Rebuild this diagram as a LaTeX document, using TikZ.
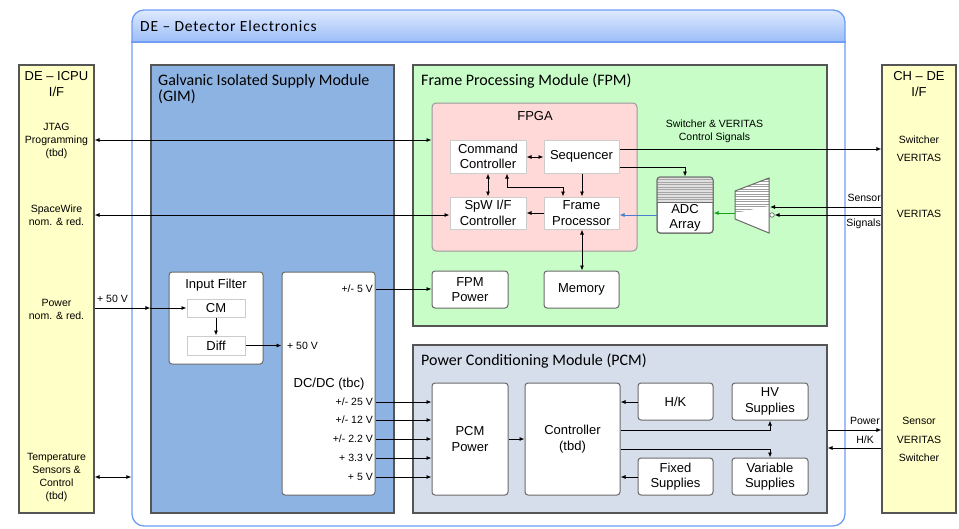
\documentclass[tikz,border=0pt]{standalone}
\usepackage{fontspec}
\setmainfont{Liberation Sans}
\newfontfamily\calfont{Carlito}
\newfontfamily\calwide[LetterSpace=5.5]{Carlito}
\usetikzlibrary{arrows.meta,fit,calc}
\definecolor{yel}{HTML}{FFFFC8}
\definecolor{gimc}{HTML}{8DB3E2}
\definecolor{fpmc}{HTML}{C8FDC8}
\definecolor{pcmc}{HTML}{D5DEEA}
\definecolor{fpgac}{HTML}{FFD8D8}
\definecolor{deline}{HTML}{6F9CF4}
\definecolor{detop}{HTML}{DDE9FF}
\definecolor{debot}{HTML}{9CBDF7}
\definecolor{modline}{HTML}{555555}
\definecolor{boxline}{HTML}{6A6A6A}
\definecolor{flow}{HTML}{4A7FD0}
\definecolor{grn}{HTML}{1E9E1E}
\newcommand\rbox[7]{%
 \pgfmathsetmacro\cxx{(#3+#5)/2}\pgfmathsetmacro\cyy{(#4+#6)/2}%
 \pgfmathsetmacro\ww{#5-#3}\pgfmathsetmacro\hh{#6-#4}%
 \node[#1, minimum width=\ww pt, minimum height=\hh pt] (#2) at (\cxx,\cyy) {#7};}
\begin{document}
\begin{tikzpicture}[x=1pt,y=-1pt,
 mod/.style={inner sep=0pt, draw=modline, line width=1.1pt},
 wbox/.style={inner sep=0pt, draw=boxline, line width=1pt, fill=white, rounded corners=3pt, align=center, font=\fontsize{13}{15.5}\selectfont},
 fbox/.style={inner sep=0pt, draw=gray!40, line width=1pt, fill=white, align=center, font=\fontsize{13}{15.5}\selectfont},
 arr/.style={-{Latex[length=5pt,width=4pt]}, line width=0.8pt},
 darr/.style={{Latex[length=5pt,width=4pt]}-{Latex[length=5pt,width=4pt]}, line width=0.8pt},
 lbl/.style={font=\fontsize{10.5}{13}\selectfont, align=center, inner sep=0pt},
 big/.style={font=\fontsize{13}{15.5}\selectfont, align=center, inner sep=0pt},
 ttl/.style={font=\calfont\fontsize{16}{16}\selectfont, anchor=base west, inner sep=0pt},
]
\useasboundingbox (0,0) rectangle (959,528);

% DE outer box
\begin{scope}
 \clip[rounded corners=12pt] (132,10) rectangle (845,526);
 \fill[white] (132,10) rectangle (845,526);
 \shade[top color=detop, bottom color=debot] (132,10) rectangle (845,42);
\end{scope}
\node[inner sep=0pt, draw=deline, line width=1.3pt, rounded corners=12pt, fit={(132,10)(845,526)}] (de) {};
\draw[deline, line width=1.3pt] (de.west |- 0,42) -- (de.east |- 0,42);
\node[anchor=base west, inner sep=0pt, font=\calwide\fontsize{15.5}{16}\selectfont] at (140,31) {DE – Detector Electronics};

% interface boxes
\rbox{mod, fill=yel}{lif}{19}{65}{94}{513}{}
\rbox{mod, fill=yel}{rif}{882}{65}{956}{513}{}

% modules
\rbox{mod, fill=gimc}{gim}{151}{65}{394}{513}{}
\rbox{mod, fill=fpmc}{fpm}{413}{65}{827}{326}{}
\rbox{mod, fill=pcmc}{pcm}{413}{345}{827}{513}{}
\node[ttl] at (158,85) {Galvanic Isolated Supply Module};
\node[ttl] at (158,101) {(GIM)};
\node[ttl] at (421,85) {Frame Processing Module (FPM)};
\node[ttl] at (421,365) {Power Conditioning Module (PCM)};

% left interface text
\node[big] at (56.5,76.5) {DE – ICPU};
\node[big] at (56.5,92) {I/F};
\node[lbl] at (56.5,141) {JTAG\\Programming\\(tbd)};
\node[lbl] at (56.5,215) {SpaceWire\\nom. \& red.};
\node[lbl] at (56.5,309) {Power\\nom. \& red.};
\node[lbl] at (56.5,477) {Temperature\\Sensors \&\\Control\\(tbd)};

% right interface text
\node[big] at (919,76.5) {CH – DE};
\node[big] at (919,92) {I/F};
\node[lbl] at (919,140) {Switcher};
\node[lbl] at (919,158) {VERITAS};
\node[lbl] at (919,214) {VERITAS};
\node[lbl] at (919,421) {Sensor};
\node[lbl] at (919,440) {VERITAS};
\node[lbl] at (919,458) {Switcher};

% FPGA
\rbox{inner sep=0pt, draw=gray!80, line width=1pt, fill=fpgac, rounded corners=4pt}{fpga}{432}{103}{637}{251}{}
\node[big] at (535,116.5) {FPGA};
\rbox{fbox}{cmd}{450}{140}{526}{173}{Command\\Controller}
\rbox{fbox}{seq}{544}{140}{619}{173}{Sequencer}
\rbox{fbox}{spw}{450}{197}{526}{229}{SpW I/F\\Controller}
\rbox{fbox}{fp}{544}{197}{619}{229}{Frame\\Processor}

% FPM boxes
\rbox{wbox}{fpmpow}{432}{271}{508}{308}{FPM\\Power}
\rbox{wbox}{mem}{544}{271}{619}{308}{Memory}
\node[lbl] at (714.5,124) {Switcher \& VERITAS};
\node[lbl] at (714.5,138) {Control Signals};

% ADC array
\rbox{wbox}{adc}{657}{177}{713}{233}{}
\begin{scope}
 \clip[rounded corners=3pt] (657,177) rectangle (713,233);
 \fill[gray!25] (657,177) rectangle (713,202);
 \foreach \yy in {179.5,182,...,201} \draw[gray!70, line width=0.6pt] (657,\yy) -- (713,\yy);
\end{scope}
\draw[boxline, line width=1pt, rounded corners=3pt] (657,177) rectangle (713,233);
\draw[boxline, line width=0.8pt] (657,202) -- (713,202);
\node[big] at (685,209.5) {ADC};
\node[big] at (685,225) {Array};

% multiplexer
\coordinate (muxL) at (735,213);
\fill[white] (735,191) -- (769,178) -- (769,233) -- (735,219) -- cycle;
\begin{scope}
 \clip (735,191) -- (769,178) -- (769,233) -- (735,219) -- cycle;
 \clip (735,170) -- (769,170) -- (769,206) -- (735,213) -- cycle;
 \foreach \yy in {179,181.5,...,214} \draw[gray!75, line width=0.6pt] (735,\yy) -- (769,\yy);
\end{scope}
\draw[boxline, line width=1pt] (735,191) -- (769,178) -- (769,233) -- (735,219) -- cycle;
\node[circle, draw=boxline, fill=white, line width=0.7pt, inner sep=0pt, minimum size=4.5pt] (inv) at (772,215) {};
\coordinate (muxin) at (770,207);

% GIM contents
\rbox{wbox}{infilt}{169}{272}{263}{364}{}
\node[big] at (216,285) {Input Filter};
\rbox{fbox}{cm}{187}{299}{245}{317}{CM}
\rbox{fbox}{diff}{187}{336}{245}{355}{Diff}
\rbox{wbox}{dcdc}{282}{272}{375}{495}{}
\node[big] at (329,384) {DC/DC (tbc)};
\node[lbl, anchor=west] at (287,346) {+ 50 V};
\node[lbl, anchor=east] at (373,289) {+/- 5 V};
\node[lbl, anchor=east] at (373,402) {+/- 25 V};
\node[lbl, anchor=east] at (373,420) {+/- 12 V};
\node[lbl, anchor=east] at (373,439) {+/- 2.2 V};
\node[lbl, anchor=east] at (373,458) {+ 3.3 V};
\node[lbl, anchor=east] at (373,477) {+ 5 V};
\node[lbl, anchor=west] at (97,299) {+ 50 V};

% PCM contents
\rbox{wbox}{pcmpow}{432}{383}{508}{495}{PCM\\Power}
\rbox{wbox}{ctrl}{525}{383}{620}{495}{Controller\\(tbd)}
\rbox{wbox}{hk}{638}{383}{713}{420}{H/K}
\rbox{wbox}{hv}{732}{383}{808}{420}{HV\\Supplies}
\rbox{wbox}{fix}{638}{458}{713}{495}{Fixed\\Supplies}
\rbox{wbox}{var}{732}{458}{808}{495}{Variable\\Supplies}

% labels right side
\node[lbl, anchor=east] at (881,198) {Sensor};
\node[lbl, anchor=east] at (881,224) {Signals};
\node[lbl, anchor=east] at (880,421) {Power};
\node[lbl] at (865,440) {H/K};

% connectors
\draw[darr] (lif.east |- 0,140) -- (fpga.west |- 0,140);
\draw[darr] (lif.east |- 0,215) -- (spw.west |- 0,215);
\coordinate (gimin) at (gim.west |- 0,308);
\draw[arr] (lif.east |- 0,308) -- (gimin);
\draw[arr] (gimin) -- (cm.west |- 0,308);
\draw[darr] (lif.east |- 0,477) -- (de.west |- 0,477);
\draw[arr] (cm.south) -- (diff.north);
\draw[arr] (diff.east) -- (dcdc.west |- diff.east);
\draw[arr] (dcdc.east |- 0,289) -- (fpmpow.west |- 0,289);
\foreach \yy in {402,420,439,458,477}
  \draw[arr] (dcdc.east |- 0,\yy) -- (pcmpow.west |- 0,\yy);
\draw[arr] (pcmpow.east |- 0,439) -- (ctrl.west |- 0,439);
\draw[arr] (hk.west |- 0,402) -- (ctrl.east |- 0,402);
\draw[arr] (fix.west |- 0,477) -- (ctrl.east |- 0,477);
\draw[arr] (ctrl.east |- 0,430) -| (hv.south);
\draw[arr] (ctrl.east |- 0,449) -| (var.north);
\draw[arr] (pcm.east |- 0,430) -- (rif.west |- 0,430);
\draw[arr] (rif.west |- 0,448) -- (pcm.east |- 0,448);

\draw[darr] (cmd.east |- 0,157) -- (seq.west |- 0,157);
\draw[darr] (cmd.south -| 488,0) -- (spw.north -| 488,0);
\draw[darr] (cmd.south -| 507,0) -- (507,187) -- (563,187) -- (fp.north -| 563,0);
\draw[arr] (seq.south -| 582,0) -- (fp.north -| 582,0);
\draw[arr] (fp.west |- 0,213) -- (spw.east |- 0,213);
\draw[darr] (fp.south -| 582,0) -- (mem.north -| 582,0);
\draw[arr, flow] (adc.west |- 0,215) -- (fp.east |- 0,215);
\draw[arr, grn] (muxL) -- (adc.east |- muxL);
\draw[arr] (seq.east |- 0,149) -- (rif.west |- 0,149);
\draw[arr] (seq.east |- 0,167) -| (adc.north);
\draw[arr] (rif.west |- 0,207) -- (muxin);
\draw[arr] (rif.west |- 0,215) -- (inv.east);
\end{tikzpicture}
\end{document}
